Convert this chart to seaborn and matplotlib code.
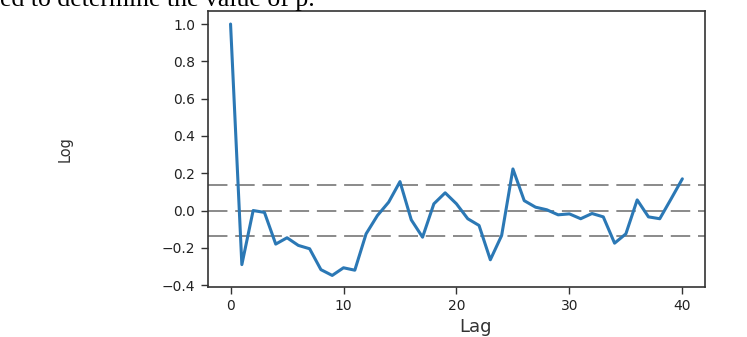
import numpy as np
import pandas as pd
import matplotlib
matplotlib.use("Agg")
import matplotlib.pyplot as plt
import seaborn as sns

# ACF values, lags 0..40
lags = list(range(41))
acf_values = [
    1.00, -0.29, 0.00, -0.01, -0.18, -0.146, -0.187, -0.205, -0.317, -0.348,
    -0.307, -0.32, -0.125, -0.027, 0.045, 0.155, -0.05, -0.143, 0.036, 0.095,
    0.036, -0.044, -0.08, -0.264, -0.134, 0.223, 0.053, 0.018, 0.004, -0.023,
    -0.018, -0.044, -0.016, -0.034, -0.175, -0.125, 0.057, -0.034, -0.044, 0.062,
    0.17,
]
conf_bound = 0.139
y_ticks = [-0.4, -0.2, 0.0, 0.2, 0.4, 0.6, 0.8, 1.0]
x_ticks = [0, 10, 20, 30, 40]
caption = "ed to determine the value of p."

df = pd.DataFrame({"Lag": lags, "ACF": acf_values})

sns.set_style("ticks")
plt.rcParams["font.family"] = ["DejaVu Sans"]

fig = plt.figure(figsize=(7.47, 3.37), dpi=100)
ax = fig.add_axes([0.2784, 0.1484, 0.6653, 0.8190])

sns.lineplot(data=df, x="Lag", y="ACF", ax=ax, color="#2b78b5", linewidth=2.2)

for level in (conf_bound, 0.0, -conf_bound):
    ax.axhline(level, color="#8a8a8a", linewidth=1.4, dashes=(10, 4), zorder=1)

ax.set_xlim(-2, 42)
ax.set_ylim(-0.41, 1.07)
ax.set_xticks(x_ticks)
ax.set_yticks(y_ticks)
ax.set_yticklabels([f"{t:.1f}".replace("-", "\u2212") for t in y_ticks])
ax.tick_params(labelsize=10, length=5, width=1, pad=4, color="#333333", labelcolor="#222222")
for side in ax.spines.values():
    side.set_color("#333333")
    side.set_linewidth(1.2)

ax.set_xlabel("Lag", fontsize=13, color="#333333")
ax.set_ylabel("Log", fontsize=10.5, color="#333333")
ax.xaxis.set_label_coords(0.539, -0.112)
ax.yaxis.set_label_coords(-0.272, 0.5)

fig.text(0.0, 0.982, caption, family="Liberation Serif", fontsize=18.5,
         va="baseline", ha="left", color="black")

fig.savefig("out.png", dpi=100)
plt.close(fig)
